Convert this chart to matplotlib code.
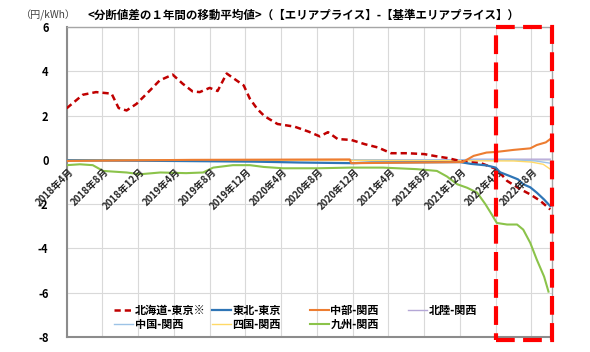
import matplotlib
matplotlib.use("Agg")
import matplotlib.pyplot as plt
import matplotlib.dates as mdates
from matplotlib.patches import Rectangle
import pandas as pd

plt.rcParams["font.family"] = ["Noto Sans CJK JP", "DejaVu Sans"]

# dane (srednia kroczaca 1 rok, yen/kWh)
hokkaido_daty = ["2018-04-01", "2018-05-26", "2018-07-10", "2018-09-01", "2018-09-25", "2018-10-22",
                 "2018-11-25", "2019-01-10", "2019-02-12", "2019-03-28", "2019-05-01", "2019-06-04",
                 "2019-06-28", "2019-08-01", "2019-08-28", "2019-09-28", "2019-11-25", "2019-12-16",
                 "2020-01-10", "2020-02-04", "2020-03-19", "2020-05-16", "2020-07-04", "2020-08-10",
                 "2020-09-07", "2020-10-10", "2020-11-25", "2021-01-10", "2021-02-24", "2021-04-10",
                 "2021-06-04", "2021-08-01", "2021-09-16", "2021-10-20", "2021-12-13", "2022-02-10",
                 "2022-04-05", "2022-05-10", "2022-06-25", "2022-07-28", "2022-09-01", "2022-10-04"]
hokkaido_wart = [2.33, 2.94, 3.06, 2.99, 2.34, 2.23,
                 2.53, 3.14, 3.59, 3.85, 3.44, 3.09,
                 3.06, 3.25, 3.11, 3.90, 3.36, 2.76,
                 2.30, 1.97, 1.62, 1.50, 1.27, 1.06,
                 1.25, 0.94, 0.90, 0.71, 0.56, 0.30,
                 0.30, 0.26, 0.15, 0.08, -0.09, -0.15,
                 -0.42, -0.95, -1.33, -1.56, -1.86, -2.24]

tohoku_daty = ["2018-04-01", "2019-04-01", "2020-01-01", "2020-06-01", "2020-12-01", "2021-02-01",
               "2021-12-01", "2022-01-06", "2022-03-01", "2022-04-01", "2022-04-16", "2022-05-19",
               "2022-06-16", "2022-07-04", "2022-07-28", "2022-08-19", "2022-09-13", "2022-10-04"]
tohoku_wart = [-0.02, -0.05, -0.08, -0.12, -0.15, -0.12,
               -0.10, -0.18, -0.25, -0.35, -0.56, -0.73,
               -0.88, -1.10, -1.24, -1.48, -1.79, -2.09]

chubu_daty = ["2018-04-01", "2019-06-01", "2020-11-20", "2020-11-25", "2021-12-10", "2022-01-16",
              "2022-03-01", "2022-04-05", "2022-06-01", "2022-07-28", "2022-08-19", "2022-09-19",
              "2022-10-04"]
chubu_wart = [-0.05, 0.0, 0.02, -0.15, -0.10, 0.18,
              0.33, 0.36, 0.45, 0.52, 0.67, 0.79,
              0.94]

hokuriku_daty = ["2018-04-01", "2021-12-01", "2022-01-15", "2022-10-04"]
hokuriku_wart = [0.0, 0.0, 0.03, 0.03]

chugoku_daty = ["2018-04-01", "2022-06-01", "2022-08-15", "2022-10-04"]
chugoku_wart = [0.0, 0.0, -0.05, -0.15]

shikoku_daty = ["2018-04-01", "2021-06-01", "2022-06-01", "2022-08-01", "2022-09-10", "2022-10-04"]
shikoku_wart = [0.0, -0.03, -0.05, -0.10, -0.20, -0.42]

kyushu_daty = ["2018-04-01", "2018-05-16", "2018-06-29", "2018-08-03", "2018-10-22", "2018-12-07",
               "2019-02-14", "2019-05-13", "2019-07-10", "2019-08-13", "2019-10-19", "2019-12-16",
               "2020-02-01", "2020-04-07", "2020-08-01", "2020-11-22", "2021-03-13", "2021-07-07",
               "2021-09-13", "2021-10-17", "2021-11-21", "2021-12-25", "2022-01-28", "2022-02-25",
               "2022-03-19", "2022-04-05", "2022-05-10", "2022-06-13", "2022-07-04", "2022-07-28",
               "2022-08-19", "2022-09-13", "2022-09-28"]
kyushu_wart = [-0.24, -0.20, -0.24, -0.50, -0.57, -0.65,
               -0.57, -0.60, -0.57, -0.35, -0.24, -0.24,
               -0.32, -0.38, -0.38, -0.35, -0.35, -0.42,
               -0.50, -0.75, -1.10, -1.26, -1.48, -2.00,
               -2.47, -2.85, -2.92, -2.92, -3.15, -3.75,
               -4.50, -5.27, -5.95]

etykiety_x = ["2018年4月", "2018年8月", "2018年12月", "2019年4月", "2019年8月", "2019年12月",
              "2020年4月", "2020年8月", "2020年12月", "2021年4月", "2021年8月", "2021年12月",
              "2022年4月", "2022年8月"]
daty_x = ["2018-04-01", "2018-08-01", "2018-12-01", "2019-04-01", "2019-08-01", "2019-12-01",
          "2020-04-01", "2020-08-01", "2020-12-01", "2021-04-01", "2021-08-01", "2021-12-01",
          "2022-04-01", "2022-08-01"]
wart_y = [-8, -6, -4, -2, 0, 2, 4, 6]


def rysuj():
    fig = plt.figure(figsize=(5.9, 3.52), dpi=100)
    ax = fig.add_axes([0.113, 0.0426, 0.8226, 0.8807])

    d = pd.to_datetime
    l_hok, = ax.plot(d(hokkaido_daty), hokkaido_wart, color="#C00000", lw=1.8,
                     linestyle=(0, (2.5, 1.6)), label="北海道-東京※", zorder=5)
    l_hkr, = ax.plot(d(hokuriku_daty), hokuriku_wart, color="#B4A7D6", lw=1.0, label="北陸-関西", zorder=3)
    l_chg, = ax.plot(d(chugoku_daty), chugoku_wart, color="#9DC3E6", lw=1.0, label="中国-関西", zorder=3)
    l_shk, = ax.plot(d(shikoku_daty), shikoku_wart, color="#FFD966", lw=1.0, label="四国-関西", zorder=3)
    l_kyu, = ax.plot(d(kyushu_daty), kyushu_wart, color="#8BC34A", lw=1.5, label="九州-関西", zorder=4)
    l_toh, = ax.plot(d(tohoku_daty), tohoku_wart, color="#2E75B6", lw=1.6, label="東北-東京", zorder=6)
    l_chb, = ax.plot(d(chubu_daty), chubu_wart, color="#ED7D31", lw=1.5, label="中部-関西", zorder=7)

    x0 = d("2018-04-01")
    x1 = d("2022-10-10")
    ax.set_xlim(x0, x1)
    ax.set_ylim(-8, 6)

    ax.set_yticks(wart_y)
    ax.set_yticklabels([str(v) for v in wart_y], fontsize=8, fontweight="bold")
    ax.tick_params(axis="y", length=0, pad=13)
    ax.set_xticks(d(daty_x))
    ax.set_xticklabels([])
    ax.tick_params(axis="x", length=0)
    ax.grid(True, color="#D9D9D9", lw=0.8)
    ax.set_axisbelow(True)

    for s in ["left", "bottom"]:
        ax.spines[s].set_color("#8C8C8C")
        ax.spines[s].set_linewidth(1.5)
    for s in ["top", "right"]:
        ax.spines[s].set_color("#A6A6A6")
        ax.spines[s].set_linewidth(1.0)

    # etykiety dat przy osi zero
    for data, tekst in zip(d(daty_x), etykiety_x):
        ax.annotate(tekst, xy=(data, 0), xytext=(1, -5), textcoords="offset points",
                    rotation=45, rotation_mode="anchor", ha="right", va="top",
                    fontsize=7, fontweight="bold", color="#262626", zorder=8)

    # czerwona ramka
    xa = mdates.date2num(d("2022-04-01"))
    xb = mdates.date2num(x1)
    ax.add_patch(Rectangle((xa, -8.12), xb - xa, 14.12, fill=False, edgecolor="#FF0000",
                           lw=3.0, linestyle=(0, (4.5, 2.0)), clip_on=False, zorder=10))

    # legenda w 4 kolumnach
    kolumny = [[l_hok, l_chg], [l_toh, l_shk], [l_chb, l_kyu], [l_hkr]]
    pozycje = [0.0975, 0.299, 0.501, 0.703]
    for i, (linie, px) in enumerate(zip(kolumny, pozycje)):
        leg = ax.legend(handles=linie, loc="upper left", bbox_to_anchor=(px, 0.106),
                        frameon=False, borderpad=0, borderaxespad=0, handlelength=1.7,
                        handletextpad=0.15, labelspacing=0.1,
                        prop={"size": 8, "weight": "bold"})
        if i < len(kolumny) - 1:
            ax.add_artist(leg)

    fig.text(0.149, 0.957, "<分断値差の１年間の移動平均値>（【エリアプライス】-【基準エリアプライス】）",
             fontsize=8.3, fontweight="bold", ha="left", va="center")
    fig.text(0.036, 0.957, "（円/kWh）", fontsize=7.3, color="#404040", ha="left", va="center")

    plt.savefig("out.png", dpi=100)


def main():
    rysuj()


if __name__ == "__main__":
    main()
